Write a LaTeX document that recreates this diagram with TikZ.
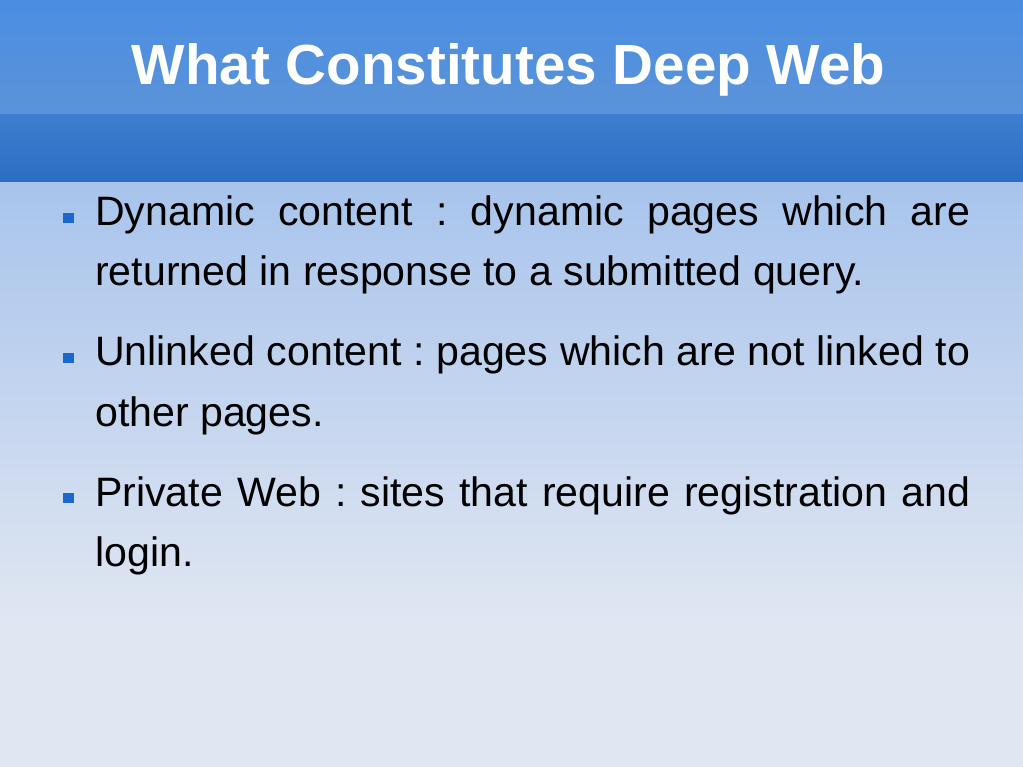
\documentclass[tikz,border=0pt]{standalone}
\usepackage{fontspec}
\setmainfont{Liberation Sans}
\frenchspacing
\definecolor{hdrtop}{HTML}{4A8EE2}
\definecolor{hdrbot}{HTML}{5B93D9}
\definecolor{bandtop}{HTML}{3D7ED0}
\definecolor{bandbot}{HTML}{2B6DC2}
\definecolor{bodytop}{HTML}{A8C4EC}
\definecolor{bodybot}{HTML}{E0E6F2}
\definecolor{bulletblue}{HTML}{1A68CC}
\tikzset{
  bodytext/.style={anchor=base west, inner sep=0pt, text=black, font=\fontsize{41.1}{48}\selectfont},
  bulletsq/.style={fill=bulletblue, draw=none, minimum size=10.5pt, inner sep=0pt},
  titletext/.style={anchor=base, inner sep=0pt, text=white, font=\fontsize{56.6}{68}\selectfont\bfseries}
}
\begin{document}
\begin{tikzpicture}[x=1pt,y=-1pt]
\useasboundingbox (0,0) rectangle (1023,767);
% backgrounds
\shade[top color=hdrtop, bottom color=hdrbot] (0,0) rectangle (1023,115);
\shade[top color=bandtop, bottom color=bandbot] (0,115) rectangle (1023,183);
\shade[top color=bodytop, bottom color=bodybot] (0,183) rectangle (1023,620);
\fill[bodybot] (0,619.5) rectangle (1023,767);
% title
\node[titletext] (title) at (508.5,85) {What Constitutes Deep Web};
% bullets
\node[bulletsq] (b1) at (68.5,218) {};
\node[bulletsq] (b2) at (68.5,358) {};
\node[bulletsq] (b3) at (68.5,498) {};
% text lines
\node[bodytext] (l1) at (95,226) {\makebox[875pt][s]{Dynamic content : dynamic pages which are}};
\node[bodytext] (l2) at (95,286) {returned in response to a submitted query.};
\node[bodytext] (l3) at (95,366) {\makebox[875pt][s]{Unlinked content : pages which are not linked to}};
\node[bodytext] (l4) at (95,426) {other pages.};
\node[bodytext] (l5) at (95,506) {\makebox[875pt][s]{Private Web : sites that require registration and}};
\node[bodytext] (l6) at (95,566) {login.};
\end{tikzpicture}
\end{document}
